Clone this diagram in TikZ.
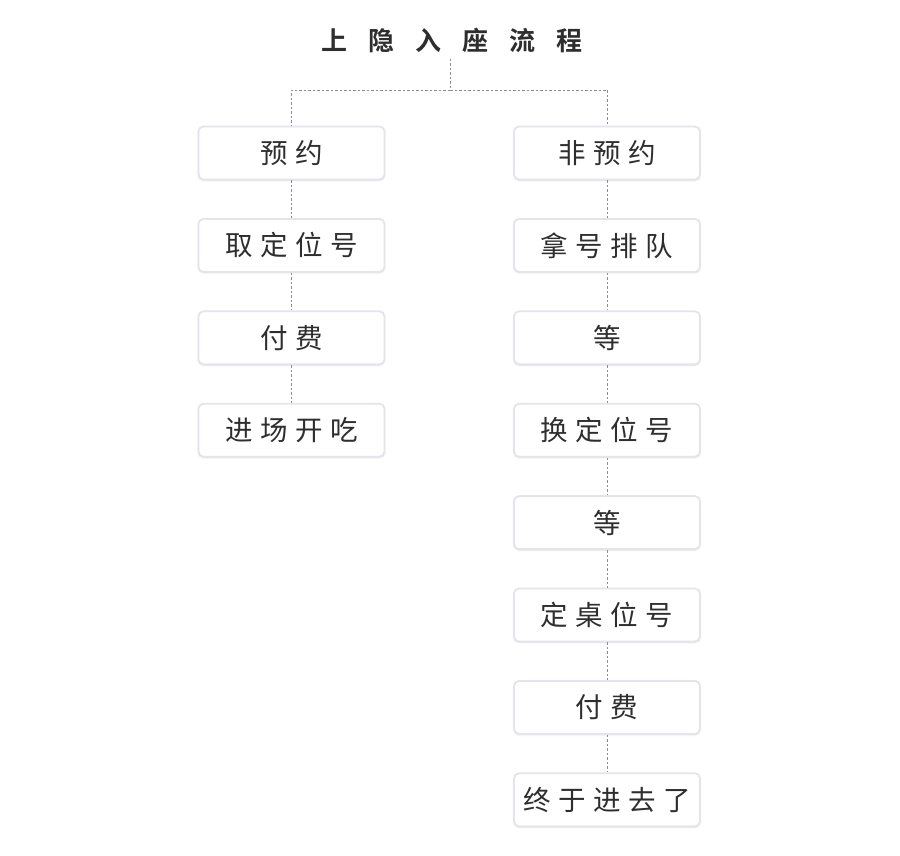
\documentclass[tikz,border=0pt]{standalone}
\usepackage{fontspec}
\usetikzlibrary{shadows.blur}
\newfontfamily\cjk{Noto Sans CJK SC}
\newfontfamily\cjkbold{Noto Sans CJK SC Bold}
\newcommand\gap{\hspace{7.5pt}}
\newcommand\tgap{\hspace{21pt}}
\definecolor{boxborder}{HTML}{E4E4EC}
\definecolor{txt}{HTML}{2E2E2E}
\definecolor{conncol}{HTML}{8E8E8E}
\tikzset{
  stepbox/.style={draw=boxborder, line width=1.8pt, rounded corners=5pt, fill=white,
    minimum width=186pt, minimum height=53pt, inner sep=0pt, text=txt,
    font=\cjk\fontsize{27.5}{27.5}\selectfont,
    blur shadow={shadow blur steps=6, shadow xshift=0pt, shadow yshift=-1pt, shadow opacity=14, shadow blur extra rounding=2pt}},
  conn/.style={draw=conncol, line width=0.8pt, dash pattern=on 2.5pt off 2pt},
  titlenode/.style={text=txt, font=\cjkbold\fontsize{26}{26}\selectfont, inner sep=0pt}
}
\begin{document}
\begin{tikzpicture}[x=1pt, y=-1pt]
\useasboundingbox (0,0) rectangle (900,856);
\node[titlenode] (T) at (452,40) {上\tgap 隐\tgap 入\tgap 座\tgap 流\tgap 程};
\coordinate (J) at (450,90);
\coordinate (Ttop) at (450,59);
% left column
\node[stepbox] (L1) at (291.5,153) {预\gap 约};
\node[stepbox] (L2) at (291.5,245.4) {取\gap 定\gap 位\gap 号};
\node[stepbox] (L3) at (291.5,337.8) {付\gap 费};
\node[stepbox] (L4) at (291.5,430.2) {进\gap 场\gap 开\gap 吃};
% right column
\node[stepbox] (R1) at (607,153) {非\gap 预\gap 约};
\node[stepbox] (R2) at (607,245.4) {拿\gap 号\gap 排\gap 队};
\node[stepbox] (R3) at (607,337.8) {等};
\node[stepbox] (R4) at (607,430.2) {换\gap 定\gap 位\gap 号};
\node[stepbox] (R5) at (607,522.6) {等};
\node[stepbox] (R6) at (607,615) {定\gap 桌\gap 位\gap 号};
\node[stepbox] (R7) at (607,707.4) {付\gap 费};
\node[stepbox] (R8) at (607,799.8) {终\gap 于\gap 进\gap 去\gap 了};
% connectors
\draw[conn] (Ttop) -- (J);
\draw[conn] (J) -| (L1.north);
\draw[conn] (J) -| (R1.north);
\draw[conn] (L1) -- (L2);
\draw[conn] (L2) -- (L3);
\draw[conn] (L3) -- (L4);
\draw[conn] (R1) -- (R2);
\draw[conn] (R2) -- (R3);
\draw[conn] (R3) -- (R4);
\draw[conn] (R4) -- (R5);
\draw[conn] (R5) -- (R6);
\draw[conn] (R6) -- (R7);
\draw[conn] (R7) -- (R8);
\end{tikzpicture}
\end{document}
